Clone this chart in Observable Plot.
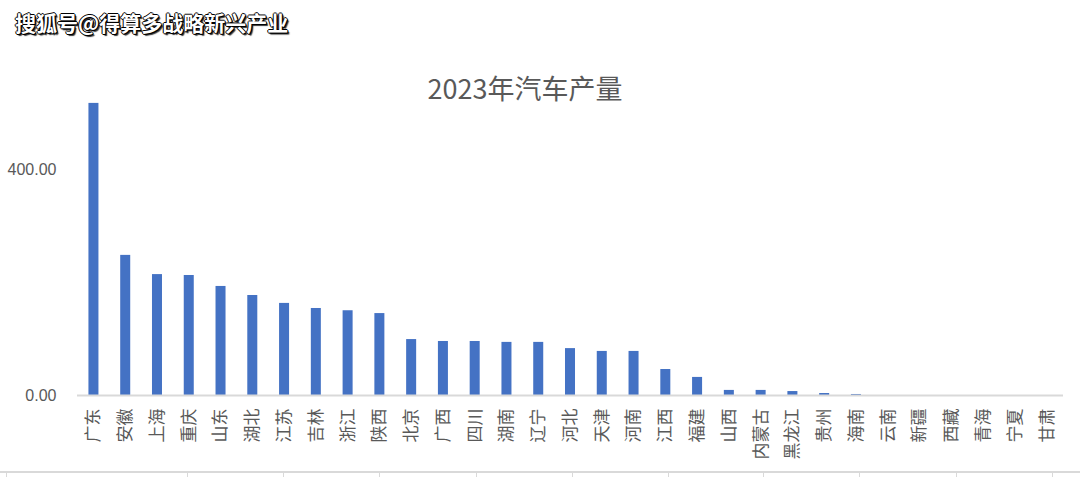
<!DOCTYPE html>
<html>
<head>
<meta charset="utf-8">
<script src="https://cdn.jsdelivr.net/npm/d3@7"></script>
<script src="https://cdn.jsdelivr.net/npm/@observablehq/plot@0.6"></script>
<style>
  html, body { margin: 0; padding: 0; background: #fff; }
  #wrap { position: relative; width: 1080px; height: 477px; overflow: hidden; }
  #chart { position: absolute; left: 0; top: 0; }
  #watermark {
    position: absolute; left: 15px; top: 7px;
    font-family: "Noto Sans CJK SC", sans-serif; font-weight: bold; font-size: 21px;
    color: #fff; letter-spacing: 0px;
    text-shadow: 1px 1px 0 #000, -1px 0 0 #000, 0 -1px 0 #000, 1px 0 0 #000, 0 1px 0 #000, 2px 2px 1px #333;
  }
  #title {
    position: absolute; left: 0; width: 1050px; top: 68px; text-align: center;
    font-family: "Noto Sans CJK SC", sans-serif; font-size: 27px; color: #595959;
  }
  #bottomline { position: absolute; left: 0; top: 471px; width: 1080px; height: 2px; background: #d9d9d9; }
  .btick { position: absolute; top: 473px; width: 1px; height: 4px; background: #d9d9d9; }
</style>
</head>
<body>
<div id="wrap">
  <div id="chart"></div>
  <div id="title">2023年汽车产量</div>
  <div id="watermark">搜狐号@得算多战略新兴产业</div>
  <div id="bottomline"></div>
</div>
<script>
const provinces = ["广东","安徽","上海","重庆","山东","湖北","江苏","吉林","浙江","陕西","北京","广西","四川","湖南","辽宁","河北","天津","河南","江西","福建","山西","内蒙古","黑龙江","贵州","海南","云南","新疆","西藏","青海","宁夏","甘肃"];
const output2023 = [517, 248, 214, 212.4, 193, 177, 163, 154, 150, 145, 99, 95.6, 95.6, 94, 94, 83, 78, 78, 46, 32, 9, 9, 7, 3.5, 1.8, 0, 0, 0, 0, 0, 0];
const yTicks = [0, 400];

const data = provinces.map((p, i) => ({province: p, value: output2023[i]}));

const chart = Plot.plot({
  width: 1080,
  height: 477,
  marginTop: 56,
  marginBottom: 82,
  marginLeft: 77,
  marginRight: 17,
  style: {fontFamily: "'Noto Sans CJK SC', sans-serif", color: "#595959", background: "transparent"},
  x: {domain: provinces, paddingInner: 0.685, paddingOuter: 0.36, round: false, label: null},
  y: {domain: [0, 600], label: null},
  marks: [
    Plot.barY(data, {x: "province", y: "value", fill: "#4472C4"}),
    Plot.ruleY([0], {stroke: "#d9d9d9", strokeWidth: 2}),
    Plot.axisX({tickSize: 0, tickPadding: 13, tickRotate: -90, fontSize: 17, fill: "#595959", label: null}),
    Plot.axisY({ticks: yTicks, tickFormat: d3.format(".2f"), tickSize: 0, tickPadding: 21, fontSize: 16, fill: "#595959", label: null, fontFamily: "'Liberation Sans', sans-serif"})
  ]
});
document.getElementById("chart").appendChild(chart);

const bottomTicks = [6, 187, 283, 379, 476, 572, 668, 763, 859, 956, 1052];
const wrap = document.getElementById("wrap");
bottomTicks.forEach(x => {
  const d = document.createElement("div");
  d.className = "btick";
  d.style.left = x + "px";
  wrap.appendChild(d);
});
</script>
</body>
</html>
